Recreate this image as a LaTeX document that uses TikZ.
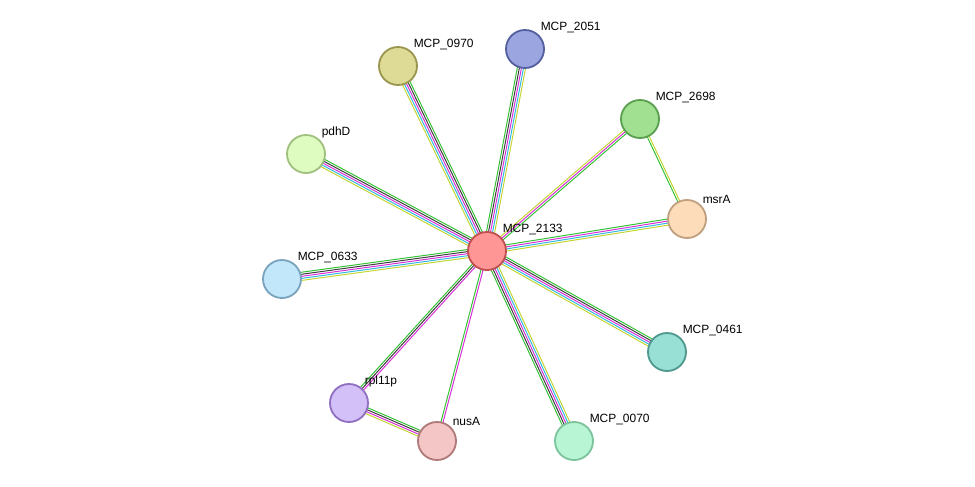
\documentclass[tikz,border=0pt]{standalone}
\usepackage{fontspec}
\setmainfont{Liberation Sans}
\usetikzlibrary{calc,backgrounds}

\definecolor{eGreen}{HTML}{33C233}
\definecolor{eBlack}{HTML}{3C3C3C}
\definecolor{eMagenta}{HTML}{D82ED8}
\definecolor{eCyan}{HTML}{30B8E0}
\definecolor{eYellow}{HTML}{C4D430}

\tikzset{
  protein/.style={circle, minimum size=0.95cm, inner sep=0pt, line width=1.3pt},
  tag/.style={font=\fontsize{8.5}{10}\selectfont, inner sep=1pt, anchor=south west},
  link/.style={line width=0.7pt}
}

% bundle of parallel evidence lines between two named nodes
\newcommand{\bundle}[4]{%
  \foreach \col [count=\k] in {#4} {
    \pgfmathsetmacro{\off}{(\k-(#3+1)/2)*1.45}
    \draw[link,\col] ($(#1)!\off pt!90:(#2)$) -- ($(#2)!\off pt!-90:(#1)$);
  }%
}

\begin{document}
\begin{tikzpicture}[x=0.025cm, y=-0.025cm]

    \useasboundingbox (0,0) rectangle (975,487);

    % ------------------------------------------------------------------ %
    % Proteins
    % ------------------------------------------------------------------ %
    \node[protein, fill={rgb,255:red,255;green,150;blue,150}, draw={rgb,255:red,192;green,80;blue,80},
          label={[tag]45:MCP\_2133}] (mcp2133) at (487,251) {};
    \node[protein, fill={rgb,255:red,222;green,219;blue,151}, draw={rgb,255:red,154;green,150;blue,80},
          label={[tag]45:MCP\_0970}] (mcp0970) at (398,66) {};
    \node[protein, fill={rgb,255:red,155;green,166;blue,224}, draw={rgb,255:red,85;green,96;blue,160},
          label={[tag]45:MCP\_2051}] (mcp2051) at (525,49) {};
    \node[protein, fill={rgb,255:red,160;green,224;blue,144}, draw={rgb,255:red,91;green,160;blue,80},
          label={[tag]45:MCP\_2698}] (mcp2698) at (640,119) {};
    \node[protein, fill={rgb,255:red,253;green,220;blue,186}, draw={rgb,255:red,192;green,160;blue,128},
          label={[tag]45:msrA}] (msra) at (687,219) {};
    \node[protein, fill={rgb,255:red,152;green,223;blue,214}, draw={rgb,255:red,80;green,153;blue,143},
          label={[tag]45:MCP\_0461}] (mcp0461) at (667,352) {};
    \node[protein, fill={rgb,255:red,184;green,245;blue,212}, draw={rgb,255:red,124;green,196;blue,156},
          label={[tag]45:MCP\_0070}] (mcp0070) at (574,441) {};
    \node[protein, fill={rgb,255:red,245;green,198;blue,198}, draw={rgb,255:red,176;green,122;blue,122},
          label={[tag]45:nusA}] (nusa) at (437,441) {};
    \node[protein, fill={rgb,255:red,212;green,192;blue,248}, draw={rgb,255:red,144;green,112;blue,192},
          label={[tag]45:rpl11p}] (rpl11p) at (349,403) {};
    \node[protein, fill={rgb,255:red,194;green,230;blue,250}, draw={rgb,255:red,122;green,164;blue,190},
          label={[tag]45:MCP\_0633}] (mcp0633) at (282,279) {};
    \node[protein, fill={rgb,255:red,223;green,252;blue,192}, draw={rgb,255:red,160;green,192;blue,128},
          label={[tag]45:pdhD}] (pdhd) at (306,154) {};

    % ------------------------------------------------------------------ %
    % Interactions
    % ------------------------------------------------------------------ %
    \begin{scope}[on background layer]
      \bundle{mcp2133}{mcp0970}{5}{eGreen,eBlack,eMagenta,eCyan,eYellow}
      \bundle{mcp2133}{mcp2051}{5}{eYellow,eCyan,eMagenta,eBlack,eGreen}
      \bundle{mcp2133}{mcp2698}{3}{eGreen,eMagenta,eYellow}
      \bundle{mcp2133}{msra}{4}{eYellow,eCyan,eMagenta,eGreen}
      \bundle{mcp2133}{mcp0461}{5}{eYellow,eCyan,eMagenta,eBlack,eGreen}
      \bundle{mcp2133}{mcp0070}{5}{eGreen,eBlack,eMagenta,eCyan,eYellow}
      \bundle{mcp2133}{nusa}{2}{eGreen,eMagenta}
      \bundle{mcp2133}{rpl11p}{3}{eGreen,eBlack,eMagenta}
      \bundle{mcp2133}{mcp0633}{5}{eGreen,eBlack,eMagenta,eCyan,eYellow}
      \bundle{mcp2133}{pdhd}{5}{eGreen,eBlack,eMagenta,eCyan,eYellow}
      \bundle{mcp2698}{msra}{2}{eGreen,eYellow}
      \bundle{rpl11p}{nusa}{4}{eYellow,eMagenta,eBlack,eGreen}
    \end{scope}

\end{tikzpicture}
\end{document}
